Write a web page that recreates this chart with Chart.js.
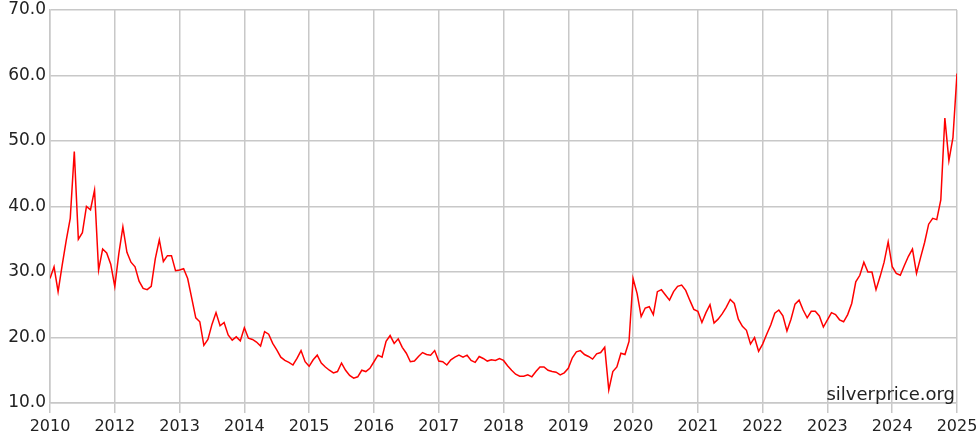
<!DOCTYPE html>
<html>
<head>
<meta charset="utf-8">
<script src="https://cdn.jsdelivr.net/npm/chart.js@4/dist/chart.umd.min.js"></script>
<style>
  html, body { margin: 0; padding: 0; background: #fff; }
  #wrap { width: 980px; height: 443px; }
</style>
</head>
<body>
<div id="wrap"><canvas id="myChart" width="980" height="443"></canvas></div>
<script>
// tick labels on the time axis, as printed on the source chart
const yearLabels = ['2010', '2012', '2013', '2014', '2015', '2016', '2017', '2018',
    '2019', '2020', '2021', '2022', '2023', '2024', '2025'];
const priceTicks = [10, 20, 30, 40, 50, 60, 70];
const pointsPerYear = 16;

// silver price, 16 readings per year interval
const prices = [
    29.0, 30.8, 27.0, 31.0, 34.8, 38.2, 48.4, 35.0, 36.0, 40.0, 39.5, 42.5, 30.3, 33.5, 32.9, 31.2,
    27.8, 32.8, 36.9, 33.0, 31.5, 30.8, 28.6, 27.5, 27.3, 27.8, 32.0, 34.9, 31.6, 32.5, 32.5, 30.2,
    30.3, 30.5, 29.0, 26.0, 23.0, 22.4, 18.8, 19.7, 22.0, 23.8, 21.8, 22.3, 20.4, 19.6, 20.1, 19.5,
    21.5, 19.9, 19.7, 19.3, 18.7, 20.9, 20.5, 19.1, 18.1, 17.0, 16.5, 16.2, 15.8, 16.8, 18.0, 16.3,
    15.6, 16.6, 17.3, 16.1, 15.5, 15.0, 14.6, 14.8, 16.1, 15.0, 14.2, 13.8, 14.0, 15.0, 14.8, 15.3,
    16.3, 17.3, 17.0, 19.4, 20.3, 19.1, 19.8, 18.5, 17.6, 16.3, 16.4, 17.1, 17.7, 17.4, 17.3, 18.0,
    16.4, 16.3, 15.8, 16.6, 17.0, 17.3, 17.0, 17.3, 16.5, 16.2, 17.1, 16.8, 16.4, 16.6, 16.5, 16.8,
    16.5, 15.7, 15.0, 14.4, 14.1, 14.1, 14.3, 14.0, 14.8, 15.5, 15.5, 15.0, 14.8, 14.7, 14.3, 14.6,
    15.3, 16.9, 17.8, 18.0, 17.4, 17.1, 16.7, 17.5, 17.7, 18.5, 12.0, 14.8, 15.5, 17.6, 17.4, 19.4,
    29.0, 26.7, 23.2, 24.5, 24.7, 23.5, 27.0, 27.3, 26.5, 25.7, 27.0, 27.8, 28.0, 27.2, 25.7, 24.3,
    24.0, 22.3, 23.8, 25.0, 22.2, 22.8, 23.6, 24.6, 25.8, 25.2, 22.8, 21.7, 21.1, 19.0, 20.0, 17.9,
    19.0, 20.5, 21.9, 23.7, 24.2, 23.3, 21.0, 22.8, 25.1, 25.7, 24.2, 23.0, 24.0, 24.0, 23.3, 21.6,
    22.7, 23.8, 23.5, 22.7, 22.4, 23.5, 25.2, 28.5, 29.5, 31.5, 30.0, 30.0, 27.3, 29.3, 31.5, 34.6,
    30.8, 29.8, 29.5, 31.0, 32.4, 33.5, 29.8, 32.2, 34.5, 37.3, 38.2, 38.0, 41.0, 53.5, 47.0, 50.5,
    60.3
];

const watermark = {
    id: 'watermark',
    afterDraw(chart) {
        const ctx = chart.ctx;
        const area = chart.chartArea;
        ctx.save();
        ctx.font = '18px "DejaVu Sans"';
        ctx.fillStyle = '#222';
        ctx.textAlign = 'right';
        ctx.textBaseline = 'alphabetic';
        ctx.fillText('silverprice.org', area.right - 2, area.bottom - 3);
        ctx.restore();
    }
};

function displayChart() {
    const ctx = document.getElementById('myChart').getContext('2d');
    const points = prices.map((p, i) => ({ x: i / pointsPerYear, y: p }));

    new Chart(ctx, {
        type: 'line',
        data: {
            datasets: [{
                data: points,
                borderColor: '#ff0000',
                borderWidth: 1.5,
                pointRadius: 0,
                tension: 0,
                fill: false
            }]
        },
        options: {
            responsive: false,
            animation: false,
            layout: { padding: { top: 10, right: 23, left: 0, bottom: 0 } },
            plugins: { legend: { display: false }, tooltip: { enabled: false } },
            scales: {
                x: {
                    type: 'linear',
                    min: 0,
                    max: yearLabels.length - 1,
                    afterBuildTicks: scale => {
                        scale.ticks = yearLabels.map((_, i) => ({ value: i }));
                    },
                    ticks: {
                        autoSkip: false,
                        maxRotation: 0,
                        padding: 4,
                        color: '#222',
                        font: { family: 'DejaVu Sans', size: 16 },
                        callback: v => yearLabels[v]
                    },
                    grid: { color: '#c8c8c8', lineWidth: 1.5, tickLength: 10 },
                    border: { color: '#c8c8c8', width: 1.5 },
                    afterFit: scale => {
                        scale.height = 40;
                        scale.paddingLeft = 0;
                        scale.paddingRight = 0;
                    }
                },
                y: {
                    min: priceTicks[0],
                    max: priceTicks[priceTicks.length - 1],
                    afterBuildTicks: scale => {
                        scale.ticks = priceTicks.map(v => ({ value: v }));
                    },
                    ticks: {
                        padding: 4,
                        color: '#222',
                        font: { family: 'DejaVu Sans', size: 17 },
                        callback: v => v.toFixed(1)
                    },
                    grid: { color: '#c8c8c8', lineWidth: 1.5, drawTicks: false },
                    border: { color: '#c8c8c8', width: 1.5 },
                    afterFit: scale => {
                        scale.width = 50;
                        scale.paddingTop = 0;
                        scale.paddingBottom = 0;
                    }
                }
            }
        },
        plugins: [watermark]
    });
}

displayChart();
</script>
</body>
</html>
